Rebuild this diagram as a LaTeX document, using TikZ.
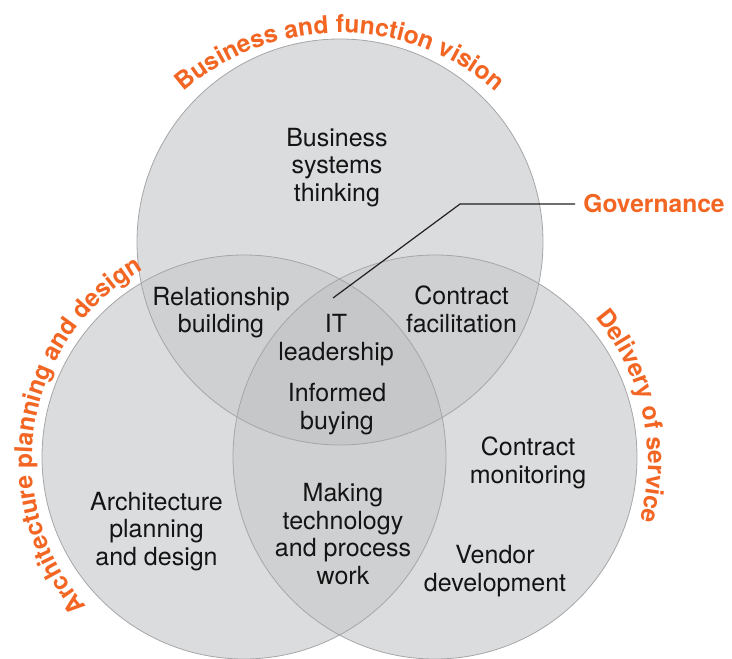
\documentclass[tikz,border=0pt]{standalone}
\usepackage{fontspec}
\setmainfont{TeX Gyre Heros}
\usetikzlibrary{decorations.text}
\definecolor{basefill}{RGB}{219,220,222}
\definecolor{pairfill}{RGB}{207,208,210}
\definecolor{triplefill}{RGB}{198,199,201}
\definecolor{edgegray}{RGB}{165,166,168}
\definecolor{accent}{RGB}{242,101,34}
\definecolor{ink}{RGB}{20,20,20}
\definecolor{leader}{RGB}{35,31,32}
\newcommand\arcfont{\fontsize{12.3}{14}\selectfont\bfseries}
\begin{document}
\begin{tikzpicture}[x=0.5pt,y=0.5pt,
  lbl/.style={align=center, font=\fontsize{12.5}{13.7}\selectfont, text=ink, inner sep=0pt},
  govlbl/.style={font=\fontsize{12.3}{14}\selectfont\bfseries, text=accent, inner xsep=4pt, inner ysep=0pt, anchor=base west},
  ring/.style={draw=edgegray, line width=0.4pt},
  govline/.style={draw=leader, line width=0.6pt},
  arclabel/.style={decorate, decoration={text along path, text align=center, text color=accent, text={|\arcfont|#1}}}
]
\useasboundingbox (0,0) rectangle (732,658);
\coordinate (T) at (340,416);
\coordinate (L) at (244,201);
\coordinate (R) at (435,201);
% base discs
\fill[basefill] (T) circle[radius=203] (L) circle[radius=202] (R) circle[radius=202];
% pairwise overlaps
\begin{scope}
  \clip (T) circle[radius=203];
  \fill[pairfill] (L) circle[radius=202] (R) circle[radius=202];
\end{scope}
\begin{scope}
  \clip (L) circle[radius=202];
  \fill[pairfill] (R) circle[radius=202];
\end{scope}
% triple overlap
\begin{scope}
  \clip (T) circle[radius=203];
  \clip (L) circle[radius=202];
  \fill[triplefill] (R) circle[radius=202];
\end{scope}
% outlines
\draw[ring] (T) circle[radius=203];
\draw[ring] (L) circle[radius=202];
\draw[ring] (R) circle[radius=202];
% curved labels
\path[arclabel={Business and function vision}] (340,388) ++(140:237) arc[start angle=140, end angle=40, radius=237];
\path[arclabel={Architecture planning and design}] (252,197) ++(230.5:220) arc[start angle=230.5, end angle=110.5, radius=220];
\path[arclabel={Delivery of service}] (427,197) ++(72.4:221) arc[start angle=72.4, end angle=-47.6, radius=221];
% region labels
\node[lbl] (bst) at (337,490.5) {Business\\systems\\thinking};
\node[lbl] (rb) at (221,345.5) {Relationship\\building};
\node[lbl] (cf) at (461.5,348.5) {Contract\\facilitation};
\node[lbl] (itl) at (336,318) {IT\\leadership};
\node[lbl] (ib) at (337,249) {Informed\\buying};
\node[lbl] (cm) at (528,195) {Contract\\monitoring};
\node[lbl] (apd) at (156.5,126.5) {Architecture\\planning\\and design};
\node[lbl] (mtp) at (343,124) {Making\\technology\\and process\\work};
\node[lbl] (vd) at (495,87) {Vendor\\development};
% governance callout
\node[govlbl] (gov) at (575,445) {Governance};
\coordinate (gb) at (460,452);
\coordinate (ge) at (333,360);
\draw[govline] (gov.west) -- (gov.west -| gb) -- (ge);
\end{tikzpicture}
\end{document}
